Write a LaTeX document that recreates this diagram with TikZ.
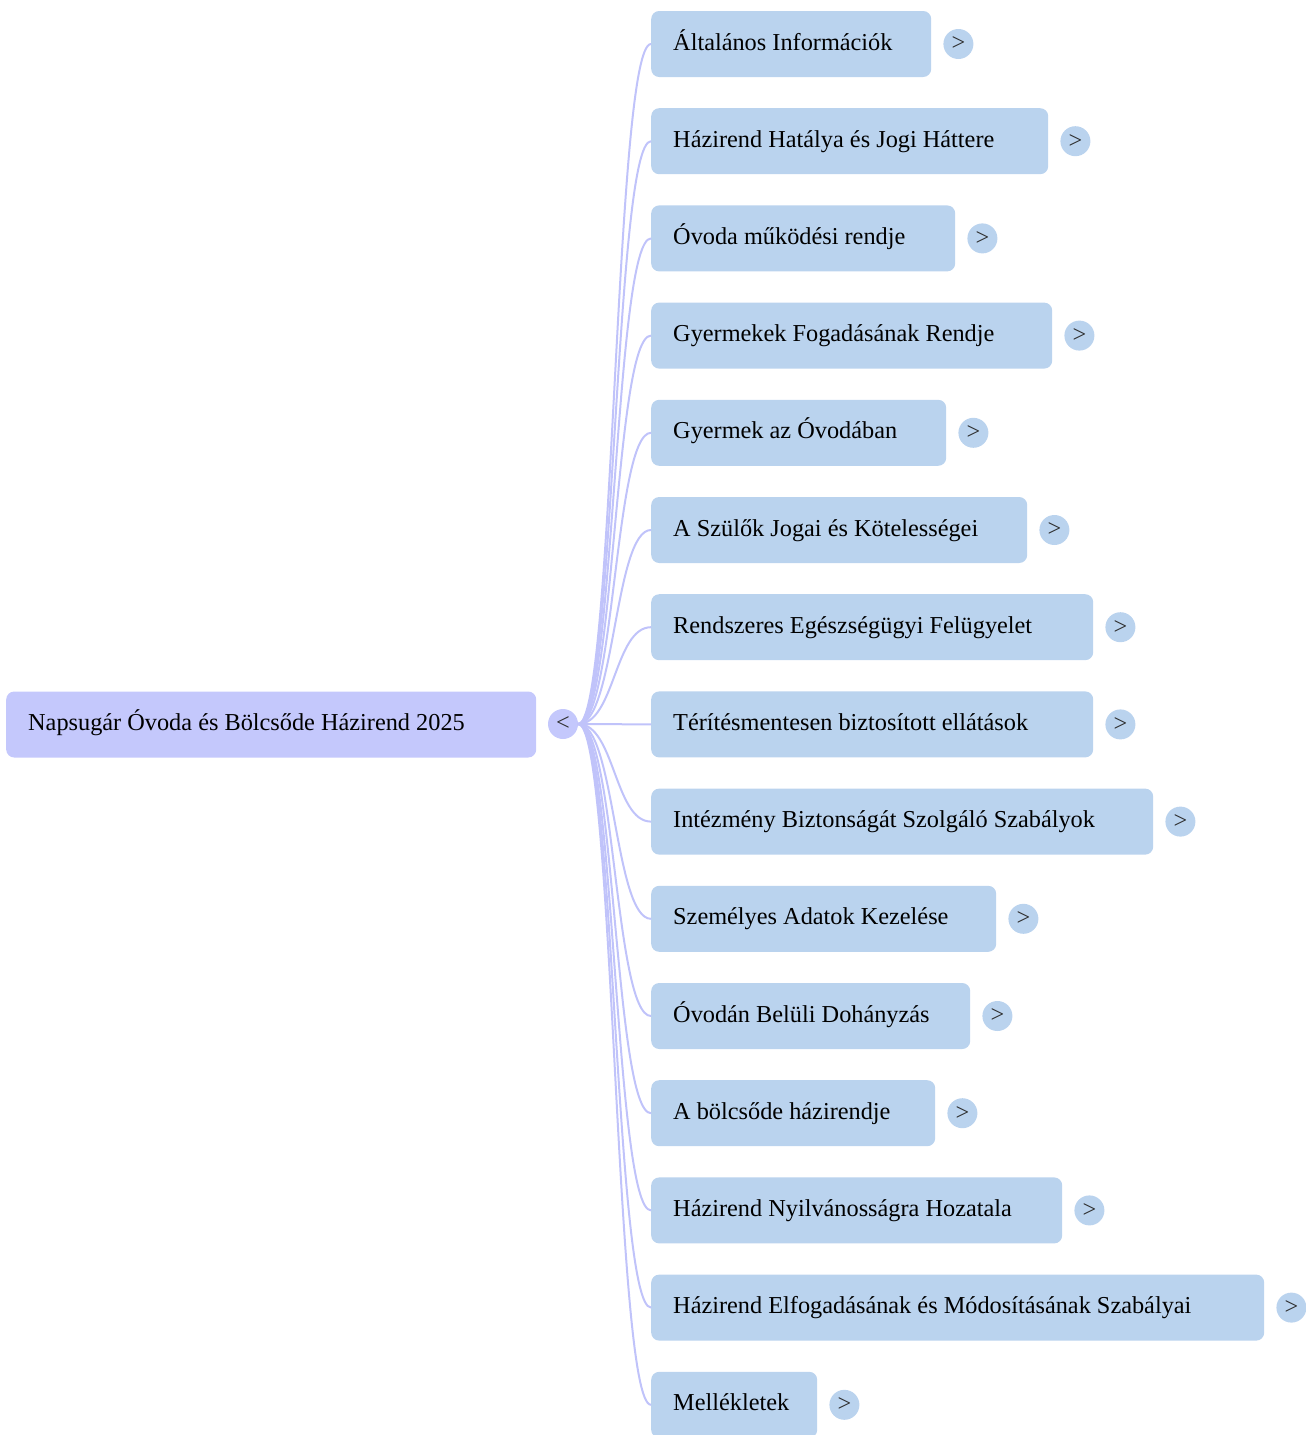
\documentclass[tikz,border=0pt]{standalone}
\usepackage{fontspec}
\setmainfont{Liberation Serif}
\definecolor{rootfill}{RGB}{196,200,252}
\definecolor{topicfill}{RGB}{186,211,238}
\definecolor{linkcolor}{RGB}{192,195,250}
\definecolor{signcolor}{RGB}{45,45,45}
\tikzset{
  box/.style={rounded corners=8pt, minimum height=66pt, inner xsep=22pt, inner ysep=0pt,
    text height=20pt, text depth=8pt,
    anchor=west, font=\fontsize{24.3}{29}\selectfont, text=black},
  toggle/.style={circle, minimum size=30pt, inner sep=0pt, text=signcolor,
    font=\fontsize{24.3}{29}\selectfont},
  link/.style={draw=linkcolor, line width=2pt}
}
\begin{document}
\begin{tikzpicture}[x=1pt,y=-1pt]
      \useasboundingbox (0,0) rectangle (1306,1435);
      \def\topx{651}

      \node[box, fill=rootfill] (root) at (6,724.5) {\makebox[486pt][l]{Napsugár Óvoda és Bölcsőde Házirend 2025}};
      \node[toggle, fill=rootfill] (toggle) at (563,724) {<};

      \foreach \r/\t [count=\i] in {931/Általános Információk,
          1048/Házirend Hatálya és Jogi Háttere,
          955/Óvoda működési rendje,
          1052/Gyermekek Fogadásának Rendje,
          946/Gyermek az Óvodában,
          1027/A Szülők Jogai és Kötelességei,
          1093/Rendszeres Egészségügyi Felügyelet,
          1093/Térítésmentesen biztosított ellátások,
          1153/Intézmény Biztonságát Szolgáló Szabályok,
          996/Személyes Adatok Kezelése,
          970/Óvodán Belüli Dohányzás,
          935/A bölcsőde házirendje,
          1062/Házirend Nyilvánosságra Hozatala,
          1264/Házirend Elfogadásának és Módosításának Szabályai,
          817/Mellékletek} {
        \pgfmathsetmacro\ypos{44+(\i-1)*97.2}
        \pgfmathsetmacro\tw{\r-\topx-44}
        \node[box, fill=topicfill] (t\i) at (\topx,\ypos) {\makebox[\tw pt][l]{\t}};
        \node[toggle, fill=topicfill] (s\i) at ([xshift=27pt]t\i.east) {>};
        \draw[link] (toggle.east) .. controls +(36.5,0) and +(-36.5,0) .. (t\i.west);
      }
    \end{tikzpicture}
\end{document}
